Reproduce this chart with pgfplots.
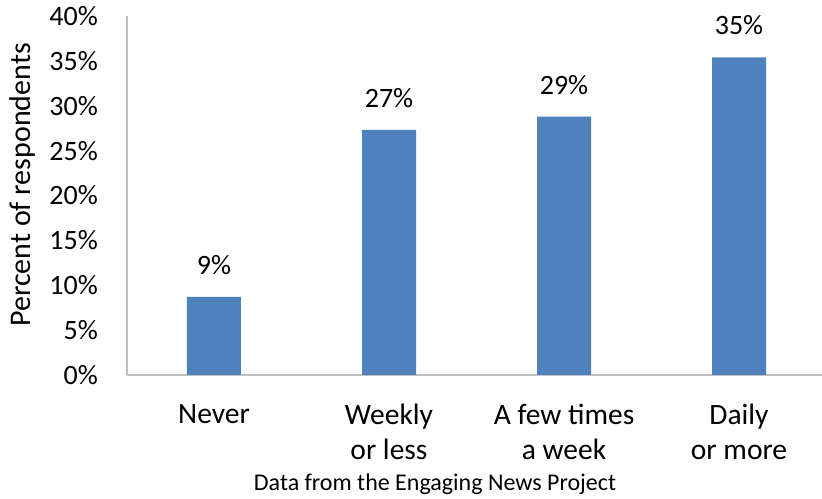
\documentclass[border=0pt]{standalone}
\usepackage{fontspec}
\setmainfont{Carlito}
\usepackage{pgfplots}
\pgfplotsset{compat=1.18}
\definecolor{barblue}{HTML}{4F81BD}
\definecolor{axgray}{HTML}{C0C0C0}
\begin{document}
\begin{tikzpicture}
\begin{axis}[
  name=ax,
  scale only axis,
  width=695pt, height=359pt,
  xmin=-0.497, xmax=3.474,
  ymin=0, ymax=40,
  axis x line*=bottom, axis y line*=left,
  axis line style={axgray, line width=1.2pt},
  x axis line style={-}, y axis line style={-},
  major tick length=0pt,
  ytick={0,5,...,40},
  yticklabels={0\%,5\%,10\%,15\%,20\%,25\%,30\%,35\%,40\%},
  yticklabel style={font=\fontsize{28}{34}\selectfont, inner sep=0pt, anchor=east, xshift=-29pt},
  xtick={0,1,2,3},
  xticklabels={Never, Weekly\\or less, A few times\\a week, Daily\\or more},
  xticklabel style={font=\fontsize{29.5}{35}\selectfont, align=center, inner sep=0pt, anchor=north, yshift=-29pt},
  ybar, bar width=54pt,
  nodes near coords,
  point meta=explicit symbolic,
  every node near coord/.append style={font=\fontsize{28}{34}\selectfont, inner sep=0pt, anchor=south, yshift=22pt},
  clip=false,
]
\addplot[fill=barblue, draw=none] coordinates {
  (0,8.7) [9\%]
  (1,27.3) [27\%]
  (2,28.8) [29\%]
  (3,35.4) [35\%]
};
\end{axis}
\node[font=\fontsize{30}{34}\selectfont, rotate=90, inner sep=0pt] at ([xshift=-104pt, yshift=190pt]ax.south west) {Percent of respondents};
\node[font=\fontsize{24}{28}\selectfont, inner sep=0pt, anchor=base] at ([xshift=308pt, yshift=-116pt]ax.south west) {Data from the Engaging News Project};
\pgfresetboundingbox
\path[use as bounding box] ([xshift=-127pt, yshift=-124pt]ax.south west) rectangle ([yshift=16pt]ax.north east);
\end{tikzpicture}
\end{document}
